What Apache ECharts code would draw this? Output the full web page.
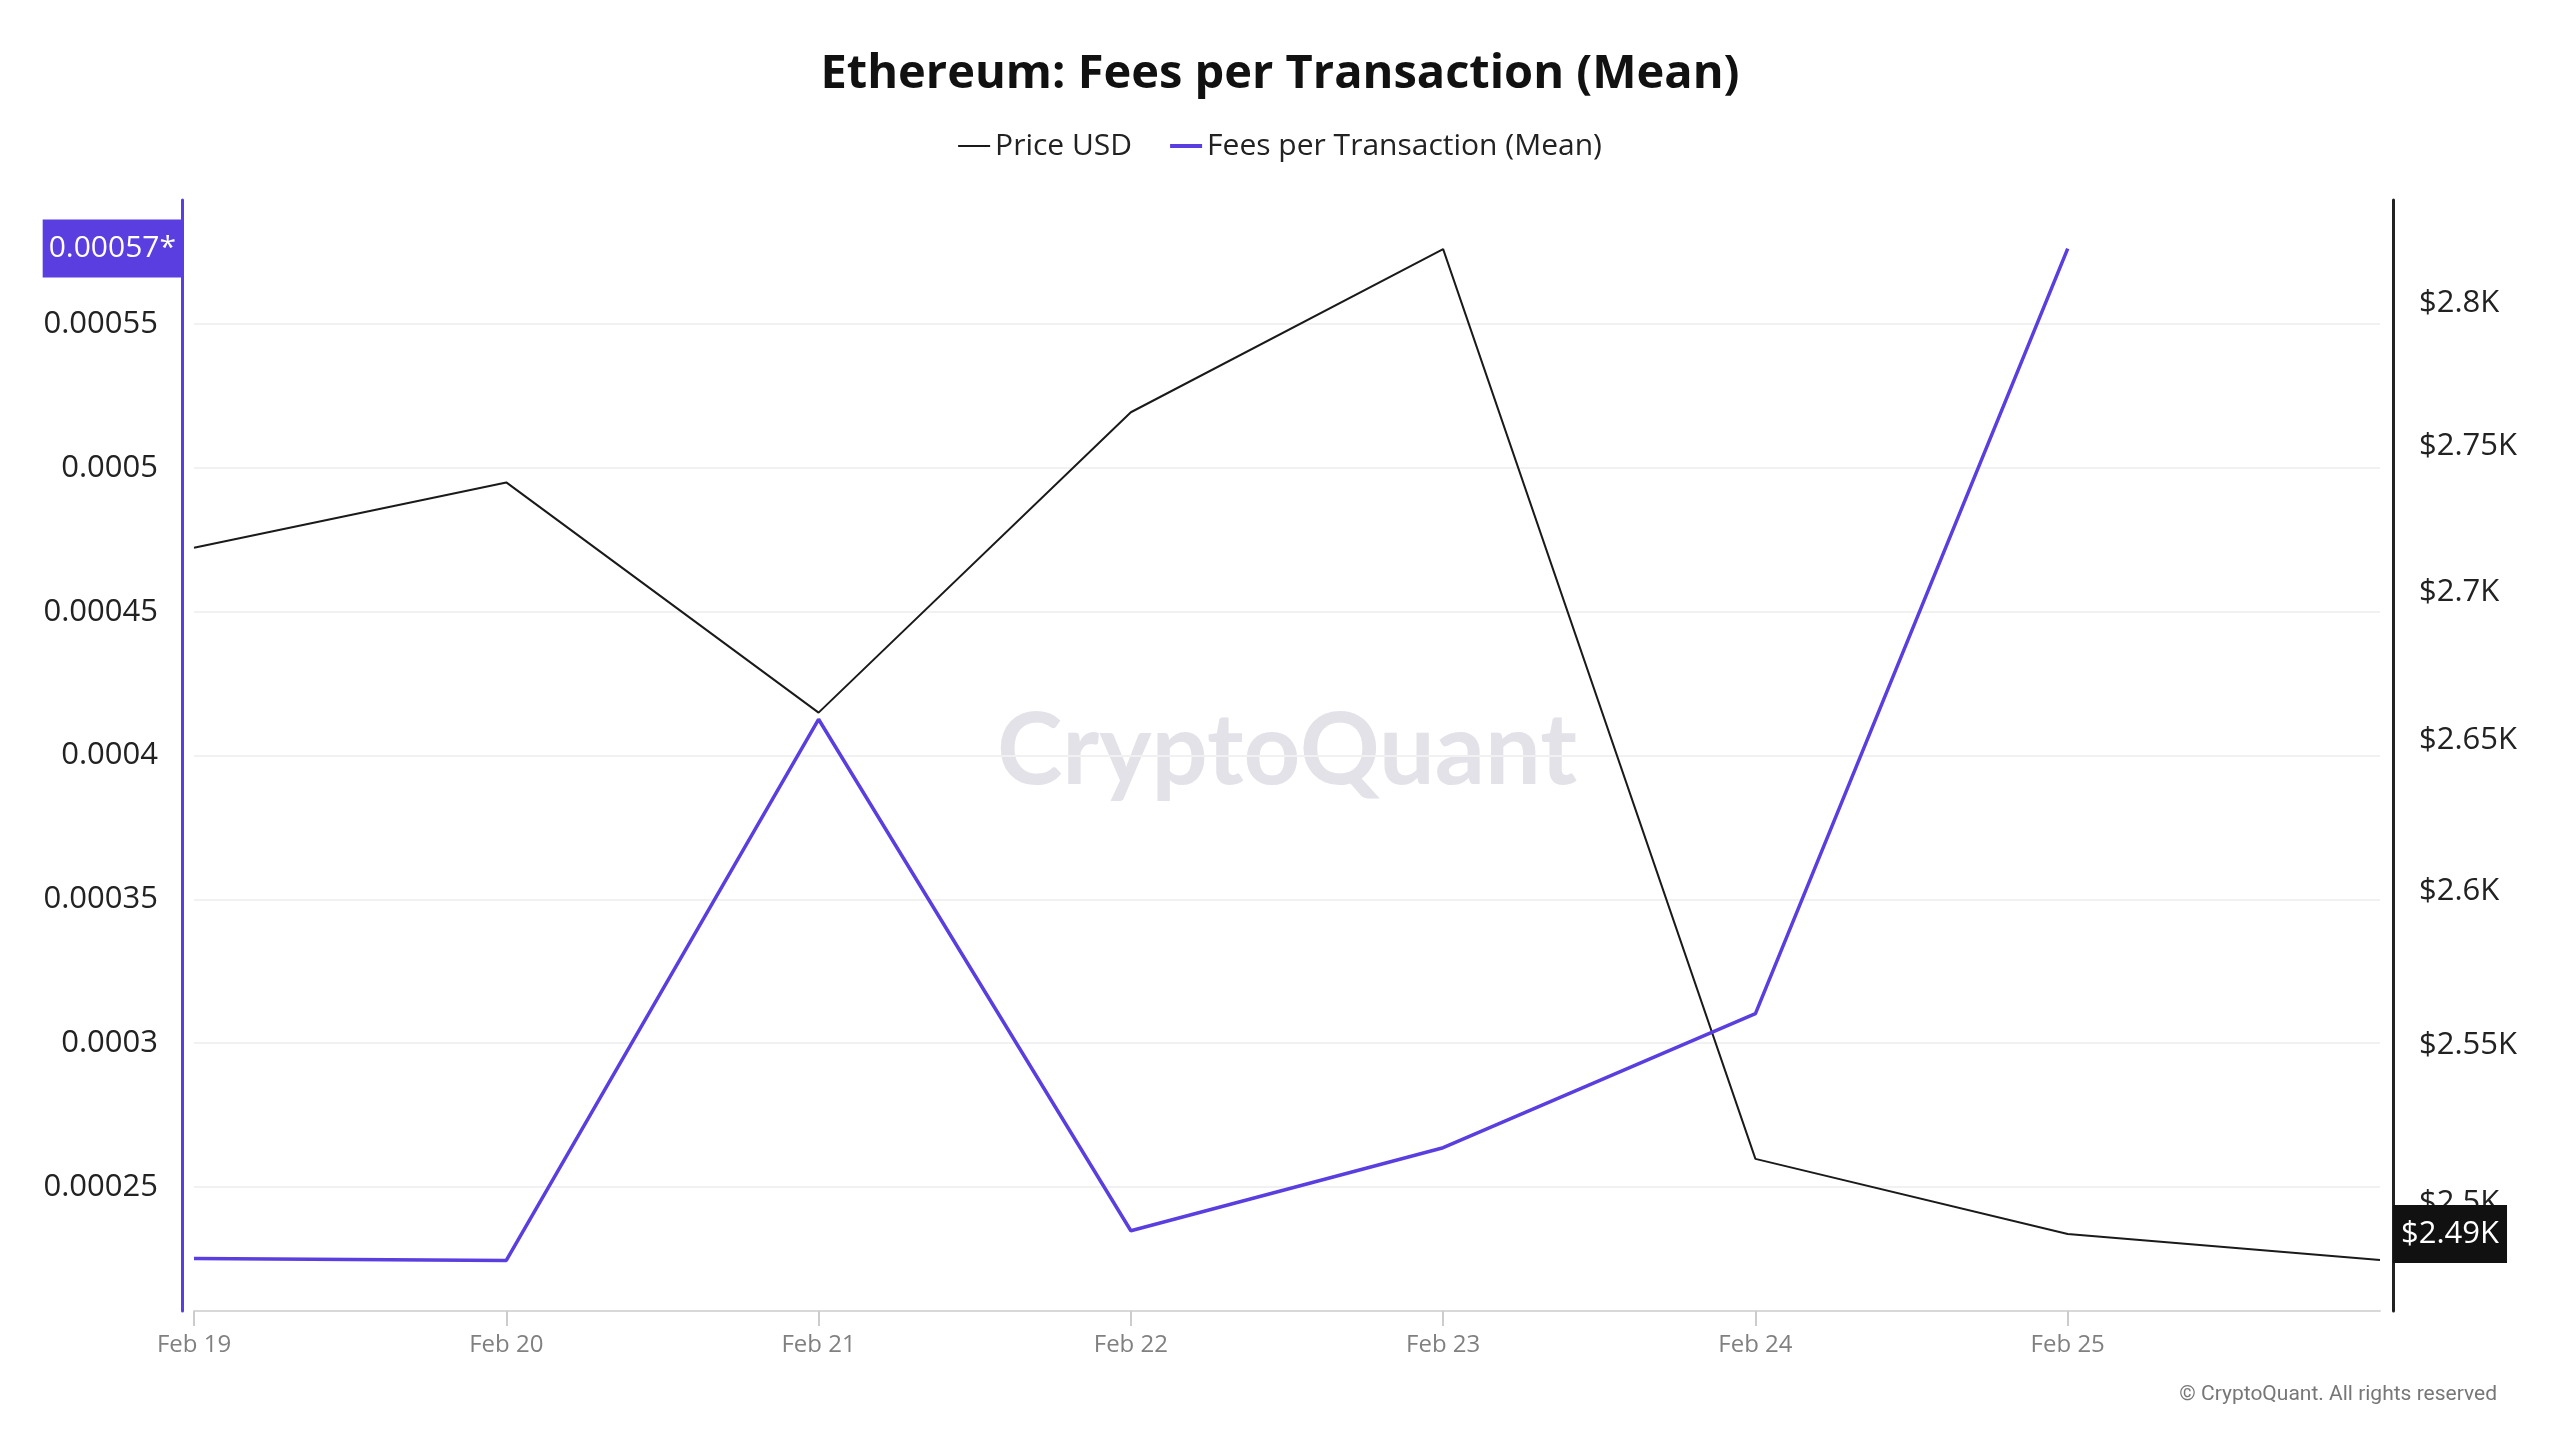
<!DOCTYPE html>
<html>
<head>
<meta charset="utf-8">
<style>
html,body{margin:0;padding:0;background:#fff;}
#chart{width:2560px;height:1440px;}
</style>
<script src="https://cdn.jsdelivr.net/npm/echarts@6/dist/echarts.min.js"></script>
</head>
<body>
<div id="chart"></div>
<script>
// ---- data ----
const dates = ['Feb 19', 'Feb 20', 'Feb 21', 'Feb 22', 'Feb 23', 'Feb 24', 'Feb 25', 'Feb 26'];
const priceUsd = [2715.0, 2737.4, 2659.2, 2761.7, 2819.0, 2513.9, 2490.2, 2482.1];
const feesMean = [0.0002251, 0.0002244, 0.0004126, 0.0002347, 0.0002636, 0.0003102, 0.0005763];
const feeTicks = [0.00025, 0.0003, 0.00035, 0.0004, 0.00045, 0.0005, 0.00055];
const priceTicks = [2500, 2550, 2600, 2650, 2700, 2750, 2800];
const feeRange = [0.0002068, 0.0005932];
const priceRange = [2466.2, 2836.5];

const PURPLE = '#5a3ee0';
const FONT = 'Open Sans';

const lastFee = feesMean[feesMean.length - 1];
const lastPrice = priceUsd[6];
const feeLabelText = (Math.floor(lastFee * 1e5) / 1e5).toString() + '*';

const chart = echarts.init(document.getElementById('chart'));
chart.setOption({
  animation: false,
  backgroundColor: '#ffffff',
  title: {
    text: 'Ethereum: Fees per Transaction (Mean)',
    left: 'center',
    top: 46,
    textStyle: { fontFamily: FONT, fontSize: 47, fontWeight: 'bold', color: '#111111' }
  },
  legend: {
    top: 126,
    left: 'center',
    itemWidth: 32,
    itemHeight: 14,
    itemGap: 38,
    textStyle: { fontFamily: FONT, fontSize: 30, color: '#222222' },
    data: [
      { name: 'Price USD', icon: 'path://M0,0 L32,0 L32,2 L0,2 Z' },
      { name: 'Fees per Transaction (Mean)', icon: 'path://M0,0 L32,0 L32,4 L0,4 Z' }
    ]
  },
  graphic: [
    {
      type: 'text',
      x: 1287, y: 752,
      z: -10,
      silent: true,
      style: {
        text: 'CryptoQuant',
        fontFamily: 'Lato',
        fontWeight: 'bold',
        fontSize: 99,
        fill: '#e2e2e8',
        textAlign: 'center',
        textVerticalAlign: 'middle'
      }
    },
    {
      type: 'text',
      right: 63, top: 1384,
      silent: true,
      style: {
        text: '\u00A9 CryptoQuant. All rights reserved',
        fontFamily: 'Roboto',
        fontSize: 21,
        fill: '#777777'
      }
    }
  ],
  axisPointer: { triggerOn: 'none' },
  grid: { left: 194, right: 180, top: 200, bottom: 129, containLabel: false },
  xAxis: {
    type: 'category',
    data: dates,
    boundaryGap: false,
    axisLine: { show: true, lineStyle: { color: '#d8d8d8', width: 2 } },
    axisTick: {
      show: true, length: 15,
      lineStyle: { color: '#cccccc', width: 2 },
      interval: function (i) { return i < dates.length - 1; }
    },
    axisLabel: {
      color: '#808080', fontFamily: FONT, fontSize: 24, margin: 22,
      interval: function (i) { return i < dates.length - 1; }
    },
    splitLine: { show: false }
  },
  yAxis: [
    {
      type: 'value',
      position: 'left',
      offset: 12,
      min: feeRange[0],
      max: feeRange[1],
      splitNumber: 8,
      axisLine: { show: true, lineStyle: { color: PURPLE, width: 3 } },
      axisTick: { show: false },
      axisLabel: {
        customValues: feeTicks,
        color: '#222222', fontFamily: FONT, fontSize: 31, margin: 24,
        formatter: function (v) { return String(+v.toPrecision(6)); }
      },
      splitLine: { show: true, showMinLine: false, showMaxLine: false, lineStyle: { color: '#f1f1f1', width: 2 } },
      axisPointer: {
        show: true,
        type: 'line',
        snap: false,
        value: lastFee,
        status: 'show',
        triggerTooltip: false,
        lineStyle: { color: 'rgba(0,0,0,0)', width: 0 },
        handle: { show: false },
        label: {
          show: true,
          formatter: function () { return feeLabelText; },
          color: '#ffffff',
          backgroundColor: PURPLE,
          fontFamily: FONT,
          fontSize: 30,
          padding: [14, 6, 14, 6],
          margin: 0,
          borderRadius: 0,
          shadowBlur: 0
        }
      }
    },
    {
      type: 'log',
      logBase: 10,
      position: 'right',
      offset: 13,
      min: priceRange[0],
      max: priceRange[1],
      axisLine: { show: true, lineStyle: { color: '#222222', width: 3 } },
      axisTick: { show: false },
      axisLabel: {
        customValues: priceTicks,
        color: '#222222', fontFamily: FONT, fontSize: 31, margin: 26,
        formatter: function (v) { return '$' + (+(v / 1000).toFixed(2)) + 'K'; }
      },
      splitLine: { show: false }
    }
  ],
  series: [
    {
      name: 'Price USD',
      type: 'line',
      yAxisIndex: 1,
      data: priceUsd,
      symbol: 'none',
      color: '#1a1a1a',
      lineStyle: { color: '#1a1a1a', width: 2 },
      z: 3,
      markLine: {
        silent: true,
        symbol: 'none',
        lineStyle: { color: 'rgba(0,0,0,0)', width: 0 },
        data: [{
          yAxis: lastPrice,
          label: {
            show: true,
            position: 'end',
            distance: 13,
            formatter: '$' + (lastPrice / 1000).toFixed(2) + 'K',
            color: '#ffffff',
            backgroundColor: '#111111',
            fontFamily: FONT,
            fontSize: 31,
            padding: [14, 8, 13, 8]
          }
        }]
      }
    },
    {
      name: 'Fees per Transaction (Mean)',
      type: 'line',
      yAxisIndex: 0,
      data: feesMean,
      symbol: 'none',
      color: PURPLE,
      lineStyle: { color: PURPLE, width: 3.5 },
      z: 4
    }
  ]
});
</script>
</body>
</html>
